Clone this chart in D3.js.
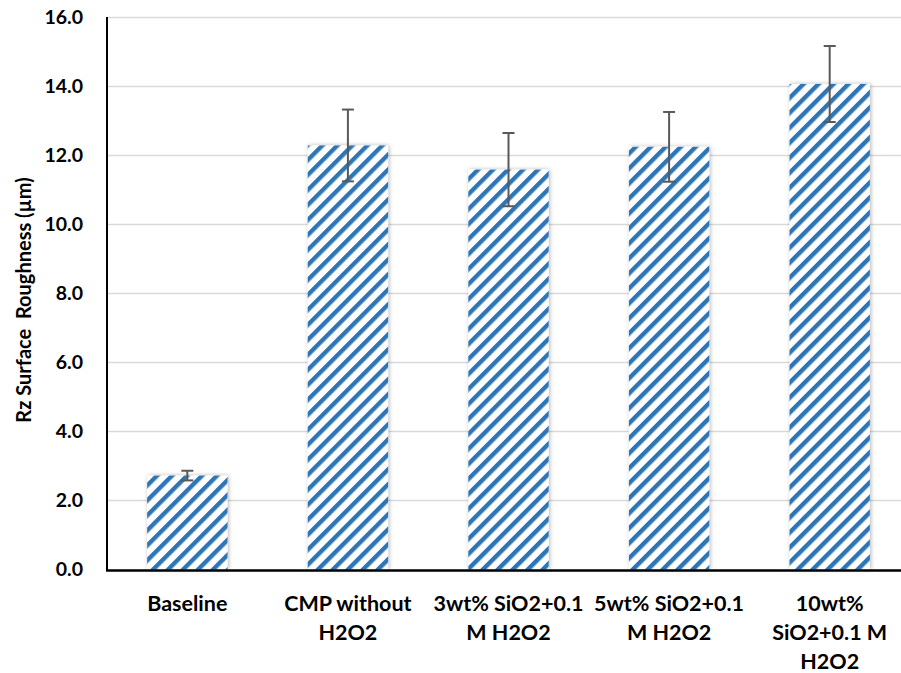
<!DOCTYPE html>
<html>
<head>
<meta charset="utf-8">
<script src="https://cdn.jsdelivr.net/npm/d3@7"></script>
<style>
  html, body { margin: 0; padding: 0; background: #fff; }
  svg { display: block; }
</style>
</head>
<body>
<svg id="chart" width="901" height="673"></svg>
<script>
// ---- data ----
const categories = [
  "Baseline",
  "CMP without H2O2",
  "3wt% SiO2+0.1 M H2O2",
  "5wt% SiO2+0.1 M H2O2",
  "10wt% SiO2+0.1 M H2O2"
];
const categoryLabelLines = [
  ["Baseline"],
  ["CMP without", "H2O2"],
  ["3wt% SiO2+0.1", "M H2O2"],
  ["5wt% SiO2+0.1", "M H2O2"],
  ["10wt%", "SiO2+0.1 M", "H2O2"]
];
const values = [2.72, 12.28, 11.58, 12.24, 14.06];
const errors = [0.14, 1.04, 1.06, 1.01, 1.10];
const yTicks = [0, 2, 4, 6, 8, 10, 12, 14, 16];
const yLabel = "Rz Surface  Roughness (µm)";

// ---- layout ----
const svg = d3.select("#chart");
const mLeft = 107, mRight = 910, mTop = 17, mBottom = 569.5;
const font = "Lato, 'Open Sans', sans-serif";

const x = d3.scaleBand().domain(categories).range([mLeft, mRight]).paddingInner(0.5).paddingOuter(0.25);
const y = d3.scaleLinear().domain([0, 16]).range([mBottom, mTop]);

// pattern
const defs = svg.append("defs");
const pat = defs.append("pattern")
  .attr("id", "stripes")
  .attr("patternUnits", "userSpaceOnUse")
  .attr("width", 10.6).attr("height", 10.6)
  .attr("patternTransform", "rotate(45)");
pat.append("rect").attr("width", 10.6).attr("height", 10.6).attr("fill", "#fff");
pat.append("rect").attr("x", 0).attr("width", 4.4).attr("height", 10.6).attr("fill", "#2E75B6");

const shadow = defs.append("filter").attr("id", "shadow")
  .attr("x", "-20%").attr("y", "-5%").attr("width", "140%").attr("height", "110%");
shadow.append("feDropShadow").attr("dx", 1).attr("dy", 0).attr("stdDeviation", 2)
  .attr("flood-color", "#000").attr("flood-opacity", 0.3);

// gridlines
svg.append("g").selectAll("line").data(yTicks.filter(d => d > 0)).join("line")
  .attr("x1", mLeft).attr("x2", 901)
  .attr("y1", d => Math.round(y(d)) + 0.5).attr("y2", d => Math.round(y(d)) + 0.5)
  .attr("stroke", "#d9d9d9").attr("stroke-width", 1.5);

// bars
svg.append("g").selectAll("rect").data(categories).join("rect")
  .attr("x", d => x(d))
  .attr("y", (d, i) => y(values[i]))
  .attr("width", x.bandwidth())
  .attr("height", (d, i) => y(0) - y(values[i]))
  .attr("fill", "url(#stripes)")
  .attr("filter", "url(#shadow)");

// error bars
const eg = svg.append("g").attr("stroke", "#595959").attr("stroke-width", 2);
categories.forEach((c, i) => {
  const cx = x(c) + x.bandwidth() / 2;
  const y1 = y(values[i] + errors[i]), y2 = y(values[i] - errors[i]);
  eg.append("line").attr("x1", cx).attr("x2", cx).attr("y1", y1).attr("y2", y2);
  eg.append("line").attr("x1", cx - 6).attr("x2", cx + 6).attr("y1", y1).attr("y2", y1);
  eg.append("line").attr("x1", cx - 6).attr("x2", cx + 6).attr("y1", y2).attr("y2", y2);
});

// axes lines
svg.append("line").attr("x1", mLeft).attr("x2", mLeft).attr("y1", mTop).attr("y2", mBottom + 1)
  .attr("stroke", "#000").attr("stroke-width", 2);
svg.append("line").attr("x1", mLeft - 1).attr("x2", 901).attr("y1", mBottom + 1).attr("y2", mBottom + 1)
  .attr("stroke", "#000").attr("stroke-width", 2.5);

// y tick labels
const yAxis = d3.axisLeft(y).tickValues(yTicks).tickFormat(d3.format(".1f")).tickSize(0).tickPadding(24);
const ya = svg.append("g").attr("transform", `translate(${mLeft},0)`).call(yAxis);
ya.select(".domain").remove();
ya.selectAll("text").attr("font-family", font).attr("font-weight", "bold")
  .attr("font-size", 19.5).attr("fill", "#000");

// x tick labels (multi-line)
const xAxis = d3.axisBottom(x).tickSize(0).tickFormat("");
const xa = svg.append("g").attr("transform", `translate(0,${mBottom})`).call(xAxis);
xa.select(".domain").remove();
xa.selectAll(".tick").each(function(d, i) {
  const t = d3.select(this).append("text")
    .attr("fill", "#000").attr("font-family", font).attr("font-weight", "bold")
    .attr("font-size", 21.5).attr("text-anchor", "middle");
  categoryLabelLines[i].forEach((line, j) => {
    t.append("tspan").attr("x", 0).attr("y", 41 + j * 29).text(line);
  });
});

// y axis title
svg.append("text")
  .attr("transform", `translate(31,300) rotate(-90)`)
  .attr("text-anchor", "middle")
  .attr("font-family", font).attr("font-weight", "bold").attr("font-size", 20)
  .attr("fill", "#000")
  .attr("xml:space", "preserve")
  .style("white-space", "pre")
  .text(yLabel);
</script>
</body>
</html>
